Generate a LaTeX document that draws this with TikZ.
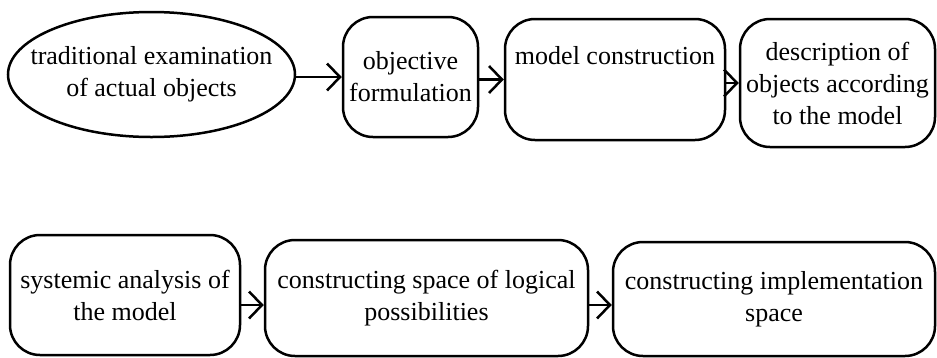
\documentclass[tikz,border=0pt]{standalone}
\usepackage{fontspec}
\setmainfont{Liberation Serif}
\usetikzlibrary{shapes.geometric,arrows.meta}
\begin{document}
\begin{tikzpicture}[x=1pt,y=-1pt,
  every node/.style={font=\fontsize{26}{32}\selectfont, align=center, line width=2.5pt, inner sep=0pt},
  rbox/.style={draw, rounded corners=30pt},
  arr/.style={line width=2.5pt, -{Straight Barb[length=13pt,width=27pt]}}]
\useasboundingbox (0,0) rectangle (937,357);
\node[draw, ellipse, minimum width=287pt, minimum height=125pt] (ell) at (151.5,74.5)
  {\makebox[0pt]{\begin{tabular}{@{}c@{}}traditional examination\\of actual objects\end{tabular}}};
\node[rbox, minimum width=135pt, minimum height=120pt] (obj) at (410.5,77) {objective\\formulation};
\node[rbox, minimum width=220pt, text height=45pt, text depth=76pt] (mc) at (615,79.5) {model construction};
\node[rbox, minimum width=195pt, minimum height=128pt] (desc) at (837.5,83) {description of\\objects according\\to the model};
\node[rbox, minimum width=230pt, minimum height=120pt] (sys) at (125,295) {systemic analysis of\\the model};
\node[rbox, minimum width=323pt, minimum height=116pt] (csp) at (426.5,298) {constructing space of logical\\possibilities};
\node[rbox, minimum width=322pt, minimum height=114pt] (cis) at (774,299) {constructing implementation\\space};
\draw[arr] (ell.east |- obj.west) -- (obj.west);
\draw[arr] (obj.east |- mc.west) -- (mc.west);
\draw[arr] (mc.east |- desc.west) -- (desc.west);
\draw[arr] ([yshift=-10pt]sys.east) -- ([yshift=-10pt]sys.east -| csp.west);
\draw[arr] ([yshift=-7pt]csp.east) -- ([yshift=-7pt]csp.east -| cis.west);
\end{tikzpicture}
\end{document}
